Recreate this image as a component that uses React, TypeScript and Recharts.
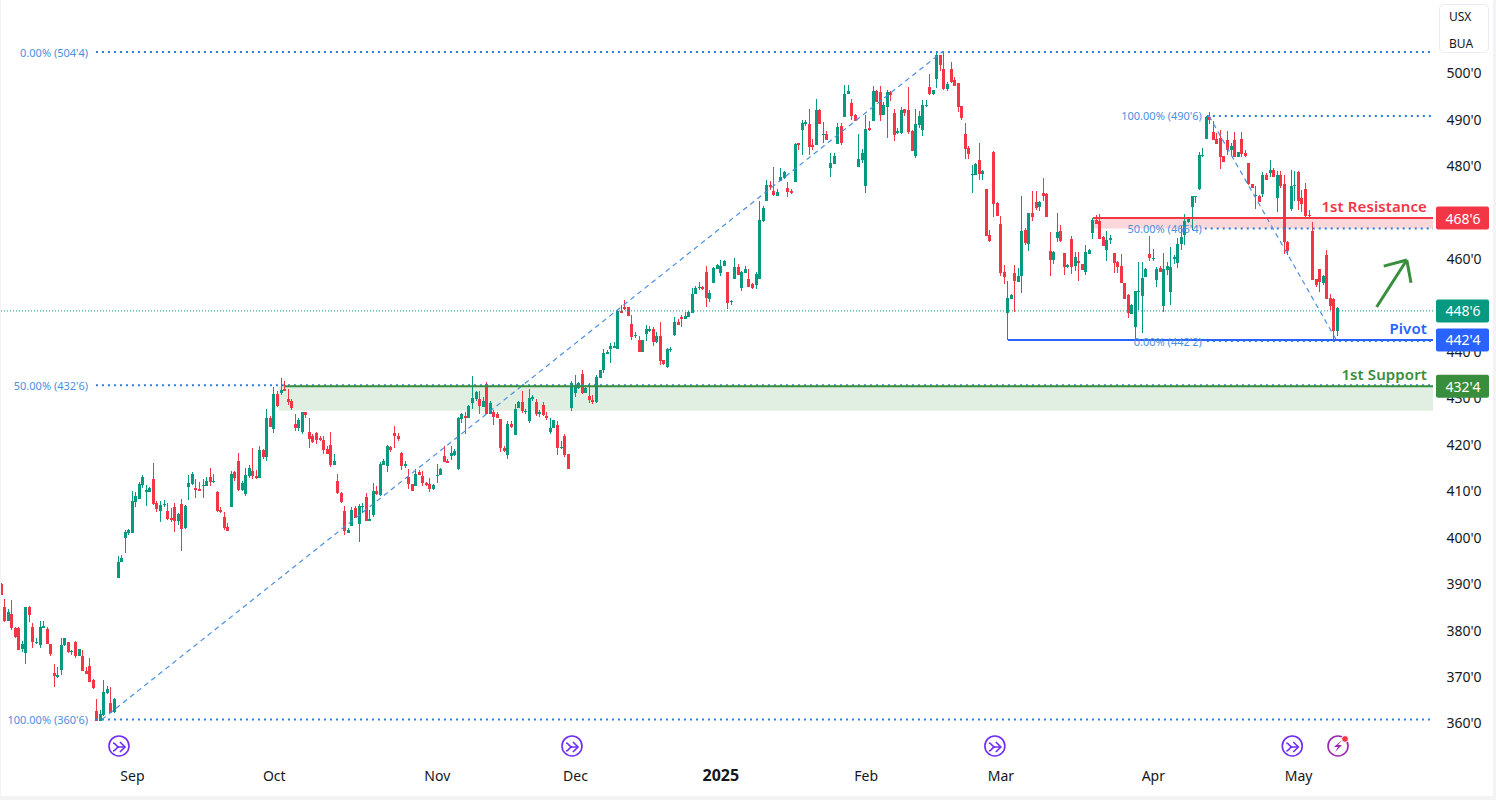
import { Bar, ComposedChart, ReferenceArea, ReferenceDot, ReferenceLine, XAxis, YAxis } from "recharts";

// each candle: [open, close, high, low]
const augCandles = [
  [389.9, 387.6, 390.2, 387.6], [385, 382, 386.7, 381.8], [382, 384, 384.5, 381.9], [383.5, 380.5, 386.5, 380], [380.4, 378.5, 380.6, 378.4],
  [380.5, 375.7, 380.6, 375.7], [375.9, 377, 377.6, 375.3], [375.1, 385, 385, 372.6], [385, 383.3, 385.2, 381.7], [380.7, 377.4, 381.5, 376.1],
  [377.3, 377.5, 378.4, 377.1], [376.8, 380.7, 382, 376.1], [380.5, 380.9, 382, 380.4], [380.2, 377, 380.6, 377], [377, 374.9, 377.1, 374.4],
  [370.8, 370.2, 372.8, 367.8], [369.8, 370.3, 372, 369.7], [371.4, 376.8, 378.4, 370.3], [376.7, 378.2, 378.4, 376.6], [377.4, 375.3, 377.5, 375.1],
  [375.4, 375.6, 375.7, 374.6], [377.5, 374.4, 377.6, 374.1], [374.4, 375.9, 375.9, 374.4], [374.4, 371.3, 375.7, 371.3], [371.3, 370.5, 372.1, 370.5],
  [372.3, 368.8, 374, 368.8], [369.3, 367.5, 369.4, 367.3], [362.6, 360.4, 365.2, 360.4], [360.4, 361.9, 362.8, 360.4], [361.7, 366.7, 369.3, 361.4],
  [366.4, 367.3, 368, 366.2], [364.2, 362.2, 367.8, 362.2], [362.4, 365.2, 365.3, 362.2], [391.2, 394.6, 396, 391.2], [394.6, 395.5, 396.1, 394.6],
  [399.8, 401.1, 401.5, 396.7], [400.9, 401.5, 401.7, 400.5],
];
const sepCandles = [
  [401, 407.8, 409.9, 401], [407.6, 408.9, 409.7, 406.6], [408.2, 411.4, 412, 408.2], [411.2, 413, 413.4, 410.6], [409.7, 410.2, 411.2, 406.7],
  [409.7, 410.6, 410.9, 409.7], [412.5, 407.1, 416, 406.9], [407.4, 406.1, 407.8, 405.4], [405.6, 406.9, 407.8, 403.3], [407, 407.1, 408, 406.5],
  [405.6, 403.9, 407.4, 403.7], [404.1, 403.7, 406.2, 403.3], [406.5, 403.5, 407.4, 401.1], [403.5, 405, 405.2, 402.6], [407.1, 401.8, 408.2, 397],
  [402, 406.7, 406.9, 401.8], [410.8, 411.7, 413.4, 408], [411.4, 413.6, 414, 411.2], [410.6, 410.2, 412.5, 408.4], [410.4, 409.9, 411.9, 409.9],
  [411, 411.2, 412.5, 408.4], [411, 412.1, 413, 411], [413, 411.9, 414.9, 411], [411.9, 412.1, 413.6, 411.7], [409.7, 405.6, 409.9, 405.4],
  [405.8, 405.4, 406.5, 405.2], [404.3, 402, 405.4, 401.5], [402.2, 401.3, 403, 401.3], [406.5, 413.6, 414.2, 406.5], [414, 412.7, 414.2, 412.1],
  [416.4, 410.2, 418.1, 409.9], [410.2, 411.7, 412.1, 409.9], [409.3, 413.4, 414.9, 408.9], [413.2, 414.9, 415.5, 412.7], [414.2, 413.2, 419.2, 412.5],
  [413.2, 412.7, 414.5, 412.5], [412.7, 418.8, 419.6, 412.7], [418.8, 417.3, 419, 416.8], [417.3, 425.7, 427.6, 416.4], [425.7, 423.7, 426.1, 423.7],
];
const octCandles = [
  [423.3, 430.8, 432.3, 422.4], [430.8, 428.2, 431.5, 428], [431, 431.7, 434.3, 430.6], [431.9, 431.5, 433.6, 431.5], [429.8, 429.1, 431.9, 428.5],
  [429.3, 427.8, 429.8, 427.4], [424.4, 423.5, 426.5, 422.9], [423.5, 425.2, 425.7, 422.9], [422.6, 427, 427, 422.2], [427, 426.3, 427, 425.7],
  [422.6, 421.1, 425.7, 419.2], [421.8, 420.5, 422.2, 420.3], [422.4, 420.9, 422.6, 420.1], [421.4, 420.9, 421.8, 420.7], [420.9, 418.8, 421.8, 417.9],
  [419, 417.9, 419.6, 417.9], [419.8, 415.5, 422.6, 415.1], [415.5, 416.4, 417.9, 415.5], [412.1, 409.5, 413.6, 409.3], [409.5, 407.6, 409.7, 407.4],
  [405.6, 401.3, 406.7, 400.5], [400.9, 401.5, 402, 400.9], [402.4, 405.9, 406.5, 402.4], [406.3, 404.2, 406.7, 404.2], [402.9, 406.7, 407.2, 399],
  [406.5, 406.7, 407.4, 405.2], [408.7, 403.5, 409.5, 403.5], [403.5, 403.9, 405.9, 403.5], [404.8, 410, 411.7, 404.4], [410, 409.3, 411.1, 409.1],
  [409.1, 415.8, 416.3, 408.9], [415.6, 416.4, 416.9, 415.6], [415.4, 419.7, 419.9, 414.1], [419.5, 418.8, 419.7, 418.4], [422.5, 421.8, 424, 419.2],
  [421.8, 421.2, 422.5, 420.7], [418.2, 415.4, 418.4, 414.5], [415.4, 415.8, 416.4, 414.9], [413, 411.5, 414.7, 410.4], [411.5, 410, 411.5, 410],
  [411, 413.6, 414.7, 411], [414.1, 413.4, 414.5, 413.4], [413.2, 411.7, 414.3, 411.1], [411.7, 411.3, 411.9, 411.1], [411.5, 410.4, 412.8, 409.8],
  [410.4, 411.3, 411.5, 410.2],
];
const novCandles = [
  [413.2, 413.4, 415.8, 411.7], [413.4, 414.7, 414.9, 413.4], [417.5, 416.2, 419.7, 416.2], [416.4, 416, 416.9, 416], [417.5, 418.2, 419.7, 416.6],
  [417.7, 418.6, 419, 417.5], [414.7, 425.7, 425.9, 414.5], [425.5, 426.5, 426.8, 424.6], [426.1, 425.7, 427, 422.3], [425.7, 428.3, 428.5, 425.7],
  [428.9, 430, 434.8, 427.6], [429.8, 431.3, 431.5, 429.4], [429.8, 428.3, 431.5, 426.6], [428.1, 429.4, 430.2, 428.1], [433, 426.6, 433.5, 426.6],
  [426.6, 428.9, 429.4, 426.6], [427, 425.9, 427.4, 424.2], [426.6, 425.7, 427, 425.7], [425.5, 419.2, 425.5, 418.4], [419.2, 418.6, 419.7, 418.4],
  [417.7, 424.4, 425, 416.9], [424.4, 423.8, 425, 423.5], [422, 427.6, 428.7, 422], [427.9, 429.2, 429.4, 427.9], [429.2, 427.2, 431.5, 426.8],
  [427, 427.2, 427.6, 426.6], [425, 430, 432, 424.6], [429.8, 430.2, 430.7, 429.4], [429.2, 426.6, 429.8, 426.1], [426.6, 427, 427.4, 425.9],
  [428.5, 426.3, 429.2, 426.1], [426.1, 425.7, 427, 425.3], [422.7, 423.6, 425.7, 422.3], [423.6, 425.3, 425.3, 423.6], [424.2, 419.2, 425, 417.7],
  [419.2, 419.4, 420.7, 419], [421.8, 417.7, 422.2, 417.3], [417.9, 414.7, 417.9, 414.7], [427.8, 433.2, 433.7, 427.2],
];
const decCandles = [
  [431.1, 432.8, 435, 430.2], [432.2, 433.2, 433.5, 432], [435.2, 431.1, 436, 430.9], [431.1, 432.2, 432.8, 431.1], [430.4, 429.6, 433.3, 428.9],
  [429.6, 429.2, 430.6, 428.7], [429.2, 434.5, 435, 428.9], [434.3, 436, 436, 434.3], [436, 439.7, 440.5, 435.4], [439.5, 439.9, 440.4, 439.5],
  [440.5, 441.2, 441.9, 437.5], [440.8, 441.2, 442.1, 440.8], [440.6, 448.7, 449, 440.6], [448.7, 448.3, 450, 448.3], [449.6, 449.2, 451.1, 449],
  [449.6, 447.7, 449.6, 447.7], [445.9, 443.1, 447.9, 442.5], [443.4, 443.6, 444.2, 442.9], [442.5, 439.9, 443.4, 439.9], [439.9, 442.5, 442.5, 439.9],
  [443.8, 444.9, 445.7, 442.3], [444.4, 444.9, 445.5, 444.2], [444.9, 442.1, 445.3, 441.2], [442.1, 443.4, 444.2, 441.9], [443.4, 438, 446.4, 437.1],
  [438.2, 437.3, 438.2, 437.1], [436.7, 440.6, 440.8, 436.5], [440.4, 440.6, 441, 439.9], [443.6, 446.4, 447.4, 443.4], [446.4, 445.7, 447, 445.7],
  [447.5, 447, 447.9, 445.3], [447, 447.7, 448.5, 447], [447.5, 448.5, 448.7, 447.5], [448.3, 452.4, 453.7, 448.3], [452.4, 453.7, 454.1, 452.4],
  [453.7, 453.9, 455, 453.3], [453.9, 453.5, 454.1, 453.3], [457.1, 451.5, 458.4, 449.6], [451.3, 452.6, 453.3, 450.7], [454.8, 458, 458.2, 454.8],
  [457.8, 458.6, 458.9, 457.8],
];
const janCandles = [
  [456.9, 458.4, 459.7, 456.3], [458.4, 459.5, 459.7, 458.4], [457.1, 450.5, 457.1, 449.2], [450.7, 450.9, 451.1, 450], [455.6, 458.2, 460.2, 455.6],
  [458.2, 456.5, 458.9, 456.5], [453.7, 457.1, 457.4, 453], [457, 457.8, 458.4, 457], [455.6, 453.9, 457.8, 453.9], [454.6, 453.7, 454.8, 453.5],
  [454.3, 456.7, 457.1, 453.5], [455.6, 468.3, 472.4, 455.6], [468.1, 470.9, 471.4, 467.9], [472.5, 475.9, 477, 472.5], [475.9, 475.5, 476.8, 474.8],
  [474.6, 473.7, 479.8, 473.5], [473.5, 474.4, 475, 473.5], [476.8, 477.6, 479.6, 476.8], [477.4, 478.7, 478.9, 477.2], [475.2, 474.4, 476.5, 473.3],
  [474.6, 474.2, 475, 474], [476.5, 484.7, 485, 476.5], [484.9, 484.5, 484.9, 483.4], [487.7, 489.2, 489.9, 482.4], [489, 489.4, 489.9, 488.6],
  [489, 484.1, 492.3, 482.4], [484.5, 484.1, 485.8, 483.4], [484.5, 492, 494.4, 484.5], [492, 489, 492.3, 489], [486.7, 486.9, 489.5, 485],
  [486.9, 485.6, 487.5, 485.6], [479.5, 480.6, 482.8, 477.6], [480.4, 482.1, 482.8, 480.4], [484.7, 488.4, 489.2, 484.7], [488.6, 484.9, 489.2, 484.5],
  [490.5, 495.5, 497.4, 490.5], [495.5, 496.1, 497.4, 495.5], [493.5, 490.7, 494.4, 489.9], [491, 489.7, 491.2, 489.7], [479.8, 481.5, 486.9, 479.8],
  [481.3, 482.8, 483.6, 480.6],
];
const febCandles = [
  [475.7, 488, 491, 474.2], [488.2, 487.7, 489.7, 487.5], [489.7, 496.1, 497.2, 489.7], [496.1, 493.8, 496.4, 493.8], [495.9, 491, 497.2, 489.7],
  [491, 493.1, 493.8, 491], [492.7, 495.9, 496.4, 486], [495.9, 495.3, 496.1, 494], [491.4, 486.7, 492.3, 485.4], [487.1, 487.5, 488.2, 486.9],
  [487.1, 492, 492.7, 486.9], [492.3, 491.4, 492.3, 490.7], [492, 487.3, 497, 486.9], [487.5, 483.2, 487.7, 483.2], [482.1, 489, 492.3, 481.7],
  [488.8, 490.7, 491.8, 488.2], [487.7, 493.1, 494.2, 486.5], [493, 493.1, 494.2, 492.7], [497, 495.5, 499.8, 495.3], [495.5, 496.4, 496.4, 495.3],
  [498.7, 503.9, 504.5, 496.8], [503.9, 501.7, 503.9, 500.4], [500.9, 496.6, 504.6, 496.4], [496.6, 497.6, 498, 496.1], [500.9, 498.1, 502.4, 497.9],
  [498.5, 497.2, 499.1, 497.2], [497.9, 492.7, 497.9, 491.6], [492.9, 490.3, 492.9, 489.9], [486.9, 483.6, 489.2, 481.5], [483.9, 482.6, 484.3, 481.5],
  [478, 478.3, 480.2, 474.2], [478, 480.4, 480.6, 478], [481.3, 478.3, 484.9, 477], [478.3, 478.9, 479.1, 477], [475, 464.9, 475, 464.9],
  [465.1, 463.8, 466.2, 463.6], [483, 471.8, 483.2, 469], [472, 469.2, 472.2, 469.2],
];
const marCandles = [
  [467.5, 456.9, 469.2, 456.3], [457.1, 456.1, 458.6, 454.6], [448.3, 451.5, 455.2, 442.5], [451.3, 452.2, 452.4, 451.3], [456.9, 455.2, 458.6, 448.5],
  [455, 456.3, 458, 455], [456.3, 466, 473.5, 452.6], [466.2, 463.4, 466.6, 462.9], [463.2, 469.8, 469.8, 461.7], [469.8, 469, 474.6, 468.1],
  [472.2, 470.9, 474.6, 470.5], [471.2, 472.2, 472.4, 470.3], [474.2, 473.5, 477.4, 472.4], [474, 469, 474.2, 469], [461.7, 459.7, 465.8, 456.3],
  [459.7, 461.4, 461.7, 458.9], [464.5, 465.7, 469.8, 463.6], [466, 463.8, 467.3, 463.6], [461.2, 458.2, 461.2, 456.5], [458.2, 458.6, 458.9, 458],
  [464.2, 458.2, 464.9, 456.7], [458.4, 460.4, 461.4, 457.4], [459.5, 459.1, 461.4, 455.2], [458.9, 457.6, 458.9, 457.6], [457.1, 461.4, 463, 456.5],
  [461, 461.9, 462.1, 461], [465.5, 468.3, 468.8, 464.2], [468.3, 467.5, 469.3, 467.5], [468.1, 464.2, 469.6, 464.2], [464.7, 462.7, 464.9, 462.7],
  [461.9, 464, 466, 459.5], [464, 464.5, 465.1, 463.2], [461.2, 459.1, 461.2, 456.9], [459.3, 458.2, 459.5, 456.9], [458.4, 454.8, 461, 454.8],
  [454.8, 451.3, 454.8, 451.3], [452.2, 448.3, 452.4, 447.2], [448.1, 450, 450.2, 448.1], [445.3, 453, 453, 442.5], [452.8, 453, 459.3, 448.9],
  [452, 455.8, 459.3, 444], [456, 457.8, 458, 456], [461, 460.1, 464.9, 459.5],
];
const aprCandles = [
  [460, 460.2, 462.1, 459.5], [455.4, 457.8, 458.3, 453.9], [458, 457.1, 458.4, 457.1], [449.8, 457.8, 461.2, 448.5], [457.6, 458.4, 459.3, 456.5],
  [452.8, 458.2, 462.5, 450], [460, 460.4, 460.8, 458.9], [459.1, 463.2, 464.5, 458], [463.2, 464.7, 467, 461.8], [465.1, 468.1, 469.6, 463],
  [467.9, 468.9, 468.9, 467.6], [471.1, 473.5, 473.5, 466.2], [473.2, 473.4, 473.5, 471.9], [475, 482.3, 483, 474.8], [482.1, 482.3, 483.9, 481.9],
  [485.7, 490.6, 490.8, 485.7], [490.6, 489.8, 491.5, 489], [487.2, 485.5, 489.6, 485.5], [485.7, 484.6, 487, 484.6], [485.9, 482, 487.8, 479.4],
  [482.2, 480.9, 482.2, 480.9], [485.5, 483.5, 487.4, 482.4], [483.5, 484.2, 485, 482.2], [485.5, 482, 487.2, 481.9], [482, 482.9, 482.9, 482],
  [485.7, 482.5, 487.2, 482], [482.7, 482.2, 483.3, 481.8], [480.5, 476, 480.7, 475.8], [476, 475.3, 476, 475.3], [473.6, 473.8, 475.6, 470.8],
  [473.4, 472.3, 473.8, 472.3], [474, 478.1, 478.6, 473.2], [478.1, 477, 478.4, 476.9], [478.4, 479.2, 481.2, 477.5], [479.2, 477.5, 479.6, 477.5],
  [473, 478.1, 478.8, 470], [478.1, 475.6, 478.8, 475.3], [476, 463.5, 478.1, 461.1], [463.5, 461.6, 463.7, 460.7], [470.6, 475.6, 479, 470.2],
  [475.6, 475.8, 478.8, 472.5],
];
const mayCandles = [
  [478.6, 472.5, 478.8, 470.4], [473, 471.7, 474.7, 470], [475.1, 469.1, 476.4, 468.7], [469.3, 469.1, 470.4, 468.9], [466, 455.5, 468, 455.5],
  [455.7, 454.4, 455.7, 453.8], [457.7, 454.9, 457.7, 452.9], [454.7, 456.2, 456.4, 454.4], [460.7, 451.4, 461.8, 451.4], [451.6, 449.7, 452.3, 449],
  [451.4, 444.5, 451.6, 442.8], [444.5, 449.3, 449.5, 443.4],
];

const monthTicks = [37, 77, 123, 162, 203, 244, 282, 325, 366];
const monthLabels = ["Sep", "Oct", "Nov", "Dec", "2025", "Feb", "Mar", "Apr", "May"];
const priceTicks = [360, 370, 380, 390, 400, 410, 420, 430, 440, 460, 480, 490, 500];

const fibLevels = [
  [26.7, 504.5], [26.7, 432.75], [26.7, 360.75], [340.1, 490.75], [339.5, 466.5], [340.1, 442.25],
];
const fibTexts = [
  ["0.00% (504'4)", 24.5, 504.5], ["50.00% (432'6)", 24.5, 432.75], ["100.00% (360'6)", 24.5, 360.75],
  ["100.00% (490'6)", 338.7, 490.75], ["50.00% (466'4)", 338.7, 466.5], ["0.00% (442'2)", 338.7, 442.25],
];
const trendLines = [
  [28.4, 360.75, 265.4, 504.5],
  [340.7, 490.75, 376.8, 442.25],
];
const tagPrices = [468.75, 448.75, 442.5, 432.5];
const tagTexts = ["468'6", "448'6", "442'4", "432'4"];
const tagColors = ["#f23645", "#089981", "#2962ff", "#388e3c"];
const eventSlots = [33.2, 161, 280.3, 364.2];

const GREEN = "#089981";
const RED = "#f23645";
const FONT = "'Noto Sans', 'Open Sans', sans-serif";
const END = 403.9;

const candles = [
  ...augCandles, ...sepCandles, ...octCandles, ...novCandles, ...decCandles,
  ...janCandles, ...febCandles, ...marCandles, ...aprCandles, ...mayCandles,
].map((c, i) => ({ i, open: c[0], close: c[1], high: c[2], low: c[3], range: [c[3], c[2]] }));

function Candle(props: any) {
  const { x, y, width, height, payload } = props;
  const d = payload;
  const k = d.high > d.low ? height / (d.high - d.low) : 0;
  const color = d.close >= d.open ? GREEN : RED;
  const left = Math.round(x + width / 2 - 1.5);
  const top = y + (d.high - Math.max(d.open, d.close)) * k;
  const bottom = y + (d.high - Math.min(d.open, d.close)) * k;
  return (
    <g shapeRendering="crispEdges">
      <rect x={left + 1} y={y} width={1} height={Math.max(height, 1)} fill={color} />
      <rect x={left} y={top} width={3} height={Math.max(bottom - top, 1)} fill={color} />
    </g>
  );
}

function xTick(props: any) {
  const { x, y, payload } = props;
  const label = monthLabels[monthTicks.indexOf(payload.value)];
  const isYear = label === "2025";
  return (
    <text x={x} y={y + 4} textAnchor="middle" fontFamily={FONT} fontSize={isYear ? 16 : 14} fill="#131722" fontWeight={isYear ? 700 : 400}>
      {label}
    </text>
  );
}

function yTick(props: any) {
  const { x, y, payload } = props;
  return (
    <text x={x + 25} y={y} textAnchor="middle" dominantBaseline="central" fontFamily={FONT} fontSize={14} fill="#131722">
      {payload.value}'0
    </text>
  );
}

function PriceTag(props: any) {
  const { cx, cy, text, color } = props;
  return (
    <g>
      <rect x={cx + 3} y={cy - 11.5} width={53} height={23} rx={2} fill={color} />
      <text x={cx + 30} y={cy} textAnchor="middle" dominantBaseline="central" fontFamily={FONT} fontSize={14} fill="#fff">
        {text}
      </text>
    </g>
  );
}

function Note(props: any) {
  const { cx, cy, text, color, size, weight, anchor = "end", spacing } = props;
  return (
    <text x={cx} y={cy} textAnchor={anchor} dominantBaseline="central" fontFamily={FONT} fontSize={size} fontWeight={weight} fill={color} letterSpacing={spacing}>
      {text}
    </text>
  );
}

function EventIcon(props: any) {
  const { cx, cy } = props;
  return (
    <g fill="none" stroke="#6f2cf5" strokeWidth={1.6}>
      <circle cx={cx} cy={cy} r={10} fill="#fff" />
      <path d={`M${cx - 6} ${cy - 3} C${cx - 3} ${cy - 3} ${cx - 3} ${cy + 1} ${cx} ${cy + 1} L${cx + 6} ${cy + 1}`} />
      <path d={`M${cx - 6} ${cy + 5} C${cx - 3} ${cy + 5} ${cx - 3} ${cy + 1} ${cx} ${cy + 1}`} />
      <path d={`M${cx + 1} ${cy - 4} L${cx + 6} ${cy + 1} L${cx + 1} ${cy + 6}`} />
    </g>
  );
}

function BoltIcon(props: any) {
  const { cx, cy } = props;
  return (
    <g>
      <circle cx={cx} cy={cy} r={10} fill="#fff" stroke="#9c27b0" strokeWidth={1.6} />
      <path d={`M${cx + 4} ${cy - 6} L${cx - 4} ${cy + 1} L${cx} ${cy + 1} L${cx - 3} ${cy + 6} L${cx + 4} ${cy - 1} L${cx} ${cy - 1} Z`} fill="#9c27b0" />
      <circle cx={cx + 7} cy={cy - 7} r={3.4} fill={RED} stroke="#fff" strokeWidth={1} />
    </g>
  );
}

export default function App() {
  return (
    <div style={{ position: "absolute", left: 0, top: 0, width: 1496, height: 800, background: "#f3f3f3", overflow: "hidden" }}>
      <div style={{ position: "absolute", left: 1, top: 0, width: 1492, height: 796, background: "#fff" }}>
        <ComposedChart
          width={1492}
          height={796}
          data={candles}
          margin={{ top: 3.3, right: 0, bottom: 0, left: -1 }}
        >
          <XAxis
            dataKey="i"
            type="number"
            domain={[-0.367, END]}
            ticks={monthTicks}
            interval={0}
            tick={xTick}
            tickLine={false}
            axisLine={false}
            height={26.6}
          />
          <YAxis
            orientation="right"
            domain={[350, 515]}
            ticks={priceTicks}
            interval={0}
            tick={yTick}
            tickLine={false}
            axisLine={false}
            tickMargin={0}
            width={60}
          />

          <ReferenceArea x1={78.3} x2={END} y1={427.25} y2={432.5} fill="#388e3c" fillOpacity={0.15} stroke="none" />
          <ReferenceArea x1={308} x2={END} y1={466.5} y2={468.75} fill={RED} fillOpacity={0.2} stroke="none" />
          <ReferenceLine y={448.75} stroke={GREEN} strokeWidth={1} strokeDasharray="1 2" />

          {fibLevels.map((f, i) => (
            <ReferenceLine key={"f" + i} segment={[{ x: f[0], y: f[1] }, { x: END, y: f[1] }]} stroke="#2a7fde" strokeWidth={2} strokeDasharray="2 4" />
          ))}
          {trendLines.map((t, i) => (
            <ReferenceLine key={"t" + i} segment={[{ x: t[0], y: t[1] }, { x: t[2], y: t[3] }]} stroke="#4a90e2" strokeWidth={1.2} strokeDasharray="5 4" />
          ))}
          <ReferenceLine segment={[{ x: 80, y: 432.5 }, { x: END, y: 432.5 }]} stroke="#388e3c" strokeWidth={2} />
          <ReferenceLine segment={[{ x: 308, y: 468.75 }, { x: END, y: 468.75 }]} stroke={RED} strokeWidth={2} />
          <ReferenceLine segment={[{ x: 284, y: 442.5 }, { x: END, y: 442.5 }]} stroke="#2962ff" strokeWidth={2} />

          <Bar dataKey="range" barSize={3} shape={Candle} isAnimationActive={false} />

          {fibTexts.map((t, i) => (
            <ReferenceDot key={"l" + i} x={t[1] as number} y={t[2] as number} r={0} ifOverflow="visible"
              shape={(p: any) => <Note {...p} text={t[0]} color="#4a90e2" size={11} />} />
          ))}
          <ReferenceDot x={402.2} y={471.35} ifOverflow="visible" shape={(p: any) => <Note {...p} text="1st Resistance" color={RED} size={15} weight={600} spacing={0.1} />} />
          <ReferenceDot x={402.2} y={445.07} ifOverflow="visible" shape={(p: any) => <Note {...p} text="Pivot" color="#2962ff" size={15} weight={600} spacing={0.1} />} />
          <ReferenceDot x={402.2} y={435.17} ifOverflow="visible" shape={(p: any) => <Note {...p} text="1st Support" color="#388e3c" size={15} weight={600} spacing={0.1} />} />

          <ReferenceLine segment={[{ x: 388, y: 449.6 }, { x: 396.5, y: 459.7 }]} stroke="#388e3c" strokeWidth={3} />
          <ReferenceLine segment={[{ x: 390, y: 458.4 }, { x: 396.5, y: 459.7 }]} stroke="#388e3c" strokeWidth={3} />
          <ReferenceLine segment={[{ x: 396.5, y: 459.7 }, { x: 397.7, y: 454.8 }]} stroke="#388e3c" strokeWidth={3} />

          {eventSlots.map((s) => (
            <ReferenceDot key={s} x={s} y={355.05} ifOverflow="visible" shape={EventIcon} />
          ))}
          <ReferenceDot x={377.1} y={355.05} ifOverflow="visible" shape={BoltIcon} />

          {tagPrices.map((p, i) => (
            <ReferenceDot key={"tag" + i} x={END} y={p} ifOverflow="visible" zIndex={3000}
              shape={(s: any) => <PriceTag {...s} text={tagTexts[i]} color={tagColors[i]} />} />
          ))}
        </ComposedChart>
        <div style={{ position: "absolute", left: 1438, top: 4, width: 50, height: 49, boxSizing: "border-box", border: "1px solid #e9ebf0", borderRadius: 5, background: "#fff", fontFamily: FONT, fontSize: 12, color: "#131722", lineHeight: "27px", paddingLeft: 9 }}>
          <div style={{ marginTop: -2 }}>USX</div>
          <div>BUA</div>
        </div>
      </div>
    </div>
  );
}
